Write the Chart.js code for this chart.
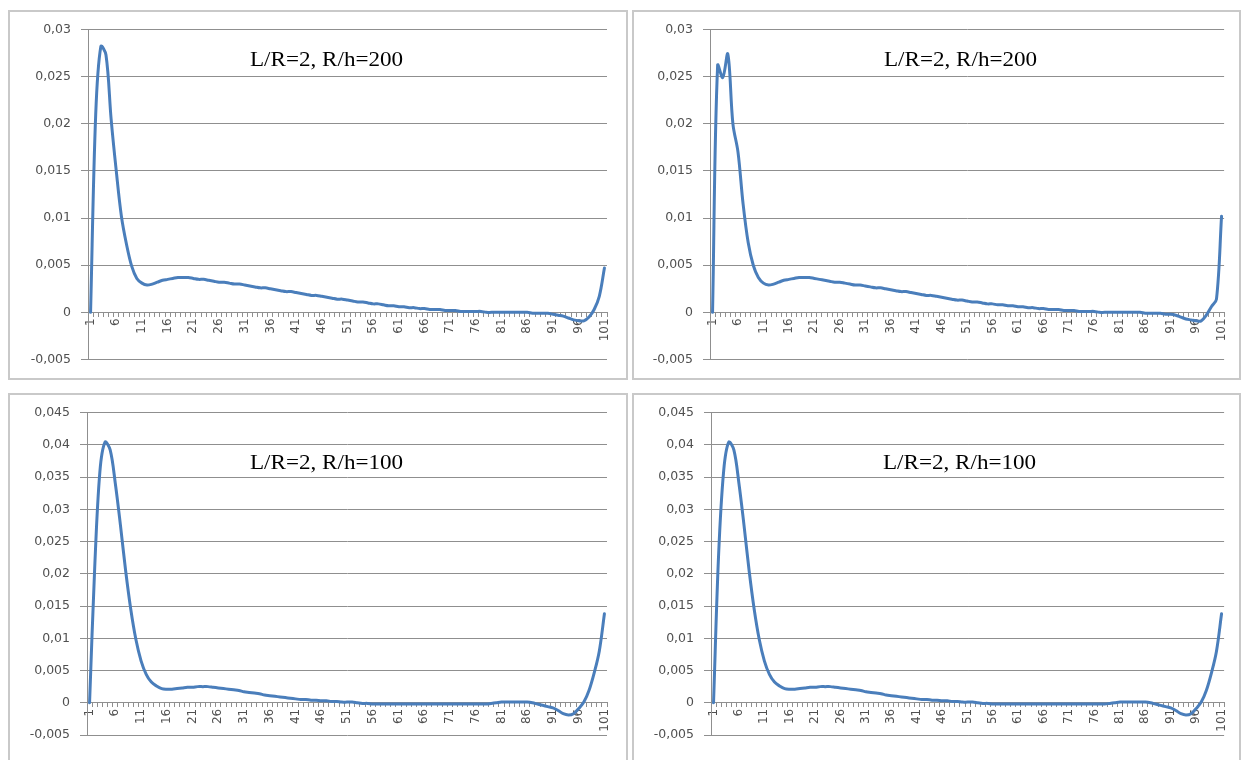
<!DOCTYPE html>
<html>
<head>
<meta charset="utf-8">
<script src="https://cdn.jsdelivr.net/npm/chart.js@4/dist/chart.umd.min.js"></script>
<style>
  html, body { margin: 0; padding: 0; background: #ffffff; }
  #page { position: relative; width: 1243px; height: 760px; overflow: hidden; background: #fff; }
  .panel { position: absolute; border: 2px solid #c9c9c9; box-sizing: border-box; background: #fff; }
  .cv { position: absolute; }
  .ttl { position: absolute; font-family: "Liberation Serif", "Times New Roman", serif; font-size: 21px;
         line-height: 21px; color: #000; white-space: nowrap; transform: scaleX(1.1); transform-origin: left top; }
</style>
</head>
<body>
<div id="page">
  <div class="panel" style="left:8px;top:10px;width:620px;height:370px;"></div>
  <div class="panel" style="left:632px;top:10px;width:609px;height:370px;"></div>
  <div class="panel" style="left:8px;top:393px;width:620px;height:372px;"></div>
  <div class="panel" style="left:632px;top:393px;width:609px;height:372px;"></div>

  <canvas id="c1" class="cv" style="left:10px;top:12px;" width="615" height="365"></canvas>
  <canvas id="c2" class="cv" style="left:634px;top:12px;" width="604" height="365"></canvas>
  <canvas id="c3" class="cv" style="left:10px;top:395px;" width="615" height="365"></canvas>
  <canvas id="c4" class="cv" style="left:634px;top:395px;" width="604" height="365"></canvas>

  <div class="ttl" id="t1" style="left:250px;top:49px;"></div>
  <div class="ttl" id="t2" style="left:884px;top:49px;"></div>
  <div class="ttl" id="t3" style="left:250px;top:452px;"></div>
  <div class="ttl" id="t4" style="left:883px;top:452px;"></div>
</div>
<script>
// ---------- DATA ----------
const categories = Array.from({length: 101}, (_, i) => String(i + 1));

const titles = ["L/R=2, R/h=200", "L/R=2, R/h=200", "L/R=2, R/h=100", "L/R=2, R/h=100"];

const yLabelsTop = ["-0,005", "0", "0,005", "0,01", "0,015", "0,02", "0,025", "0,03"];
const yLabelsBottom = ["-0,005", "0", "0,005", "0,01", "0,015", "0,02", "0,025", "0,03", "0,035", "0,04", "0,045"];

const seriesTopLeft = [
  0, 0.0210, 0.0282, 0.0273, 0.0205, 0.0150, 0.0102, 0.0072, 0.0049, 0.0036,
  0.0031, 0.0029, 0.0030, 0.0032, 0.0034, 0.0035, 0.0036, 0.0037, 0.0037, 0.0037,
  0.0036, 0.0035, 0.0035, 0.0034, 0.0033, 0.0032, 0.0032, 0.0031, 0.0030, 0.0030,
  0.0029, 0.0028, 0.0027, 0.0026, 0.0026, 0.0025, 0.0024, 0.0023, 0.0022, 0.0022,
  0.0021, 0.0020, 0.0019, 0.0018, 0.0018, 0.0017, 0.0016, 0.0015, 0.0014, 0.0014,
  0.0013, 0.0012, 0.0011, 0.0011, 0.0010, 0.0009, 0.0009, 0.0008, 0.0007, 0.0007,
  0.0006, 0.0006, 0.0005, 0.0005, 0.0004, 0.0004, 0.0003, 0.0003, 0.0003, 0.0002,
  0.0002, 0.0002, 0.0001, 0.0001, 0.0001, 0.0001, 0.0001, 0.0000, 0.0000, 0.0000,
  0.0000, 0.0000, 0.0000, 0.0000, 0.0000, 0.0000, -0.0001, -0.0001, -0.0001, -0.0001,
  -0.0002, -0.0003, -0.0004, -0.0006, -0.0008, -0.0009, -0.0009, -0.0005, 0.0003, 0.0017,
  0.0047
];

const seriesTopRight = [
  0, 0.0262, 0.0249, 0.0274, 0.0200, 0.0170, 0.0115, 0.0074, 0.0050, 0.0037,
  0.0031, 0.0029, 0.0030, 0.0032, 0.0034, 0.0035, 0.0036, 0.0037, 0.0037, 0.0037,
  0.0036, 0.0035, 0.0034, 0.0033, 0.0032, 0.0032, 0.0031, 0.0030, 0.0029, 0.0029,
  0.0028, 0.0027, 0.0026, 0.0026, 0.0025, 0.0024, 0.0023, 0.0022, 0.0022, 0.0021,
  0.0020, 0.0019, 0.0018, 0.0018, 0.0017, 0.0016, 0.0015, 0.0014, 0.0013, 0.0013,
  0.0012, 0.0011, 0.0011, 0.0010, 0.0009, 0.0009, 0.0008, 0.0008, 0.0007, 0.0007,
  0.0006, 0.0006, 0.0005, 0.0005, 0.0004, 0.0004, 0.0003, 0.0003, 0.0003, 0.0002,
  0.0002, 0.0002, 0.0001, 0.0001, 0.0001, 0.0001, 0.0000, 0.0000, 0.0000, 0.0000,
  0.0000, 0.0000, 0.0000, 0.0000, 0.0000, -0.0001, -0.0001, -0.0001, -0.0001, -0.0002,
  -0.0002, -0.0003, -0.0005, -0.0007, -0.0008, -0.0009, -0.0009, -0.0003, 0.0006, 0.0014,
  0.0102
];

const seriesBottomLeft = [
  0, 0.0210, 0.0358, 0.0404, 0.0392, 0.0340, 0.0275, 0.0205, 0.0145, 0.0098,
  0.0065, 0.0044, 0.0032, 0.0026, 0.0022, 0.0021, 0.0021, 0.0022, 0.0023, 0.0024,
  0.0024, 0.0025, 0.0025, 0.0025, 0.0024, 0.0023, 0.0022, 0.0021, 0.0020, 0.0019,
  0.0017, 0.0016, 0.0015, 0.0014, 0.0012, 0.0011, 0.0010, 0.0009, 0.0008, 0.0007,
  0.0006, 0.0005, 0.0005, 0.0004, 0.0004, 0.0003, 0.0003, 0.0002, 0.0002, 0.0001,
  0.0001, 0.0001, 0.0000, -0.0001, -0.0001, -0.0002, -0.0002, -0.0002, -0.0002, -0.0002,
  -0.0002, -0.0002, -0.0002, -0.0002, -0.0002, -0.0002, -0.0002, -0.0002, -0.0002, -0.0002,
  -0.0002, -0.0002, -0.0002, -0.0002, -0.0002, -0.0002, -0.0002, -0.0002, -0.0001, 0.0000,
  0.0001, 0.0001, 0.0001, 0.0001, 0.0001, 0.0001, 0.0000, -0.0002, -0.0004, -0.0006,
  -0.0008, -0.0012, -0.0017, -0.0019, -0.0017, -0.0009, 0.0001, 0.0019, 0.0046, 0.0080,
  0.0138
];

const seriesBottomRight = [
  0, 0.0230, 0.0360, 0.0404, 0.0392, 0.0340, 0.0275, 0.0205, 0.0145, 0.0098,
  0.0065, 0.0044, 0.0032, 0.0026, 0.0022, 0.0021, 0.0021, 0.0022, 0.0023, 0.0024,
  0.0024, 0.0025, 0.0025, 0.0025, 0.0024, 0.0023, 0.0022, 0.0021, 0.0020, 0.0019,
  0.0017, 0.0016, 0.0015, 0.0014, 0.0012, 0.0011, 0.0010, 0.0009, 0.0008, 0.0007,
  0.0006, 0.0005, 0.0005, 0.0004, 0.0004, 0.0003, 0.0003, 0.0002, 0.0002, 0.0001,
  0.0001, 0.0001, 0.0000, -0.0001, -0.0001, -0.0002, -0.0002, -0.0002, -0.0002, -0.0002,
  -0.0002, -0.0002, -0.0002, -0.0002, -0.0002, -0.0002, -0.0002, -0.0002, -0.0002, -0.0002,
  -0.0002, -0.0002, -0.0002, -0.0002, -0.0002, -0.0002, -0.0002, -0.0002, -0.0001, 0.0000,
  0.0001, 0.0001, 0.0001, 0.0001, 0.0001, 0.0001, 0.0000, -0.0002, -0.0004, -0.0006,
  -0.0008, -0.0012, -0.0017, -0.0019, -0.0017, -0.0009, 0.0001, 0.0019, 0.0046, 0.0080,
  0.0138
];

// ---------- CHARTS ----------
const GRID = '#8f8f8f';
const TICKCOL = '#505050';
const FONT = 'DejaVu Sans';

function makeChart(id, data, yMax, yLabels, yWidth, pad) {
  const ctx = document.getElementById(id);
  return new Chart(ctx, {
    type: 'line',
    data: {
      labels: categories,
      datasets: [{
        data: data,
        borderColor: '#4a7ebb',
        borderWidth: 3,
        pointRadius: 0,
        pointHoverRadius: 0,
        fill: false,
        tension: 0.35,
        borderCapStyle: 'round',
        borderJoinStyle: 'round'
      }]
    },
    options: {
      responsive: false,
      animation: false,
      devicePixelRatio: 1,
      layout: { padding: pad },
      plugins: { legend: { display: false }, tooltip: { enabled: false }, title: { display: false } },
      scales: {
        x: {
          type: 'category',
          position: { y: 0 },
          offset: true,
          grid: { display: true, drawOnChartArea: false, drawTicks: true, tickLength: 4, offset: true, color: GRID, lineWidth: 1 },
          border: { display: true, color: GRID, width: 1 },
          ticks: {
            autoSkip: false, maxRotation: 90, minRotation: 90, padding: 2,
            color: TICKCOL, font: { family: FONT, size: 12 },
            callback: (v, i) => (i % 5 === 0 ? categories[i] : '')
          }
        },
        y: {
          min: -0.005, max: yMax,
          afterFit: (s) => { s.width = yWidth; },
          grid: { color: GRID, lineWidth: 1, drawTicks: true, tickLength: 7 },
          border: { display: true, color: GRID, width: 1 },
          ticks: {
            stepSize: 0.005, padding: 10, color: TICKCOL, font: { family: FONT, size: 12.5 },
            callback: (v, i) => yLabels[i]
          }
        }
      }
    }
  });
}

makeChart('c1', seriesTopLeft, 0.03, yLabelsTop, 78, { left: 0, right: 18, top: 16, bottom: 17 });
makeChart('c2', seriesTopRight, 0.03, yLabelsTop, 76, { left: 0, right: 8, top: 16, bottom: 17 });
makeChart('c3', seriesBottomLeft, 0.045, yLabelsBottom, 77, { left: 0, right: 18, top: 17, bottom: 25 });
makeChart('c4', seriesBottomRight, 0.045, yLabelsBottom, 77, { left: 0, right: 9, top: 17, bottom: 25 });

['t1', 't2', 't3', 't4'].forEach((id, i) => { document.getElementById(id).textContent = titles[i]; });
</script>
</body>
</html>
